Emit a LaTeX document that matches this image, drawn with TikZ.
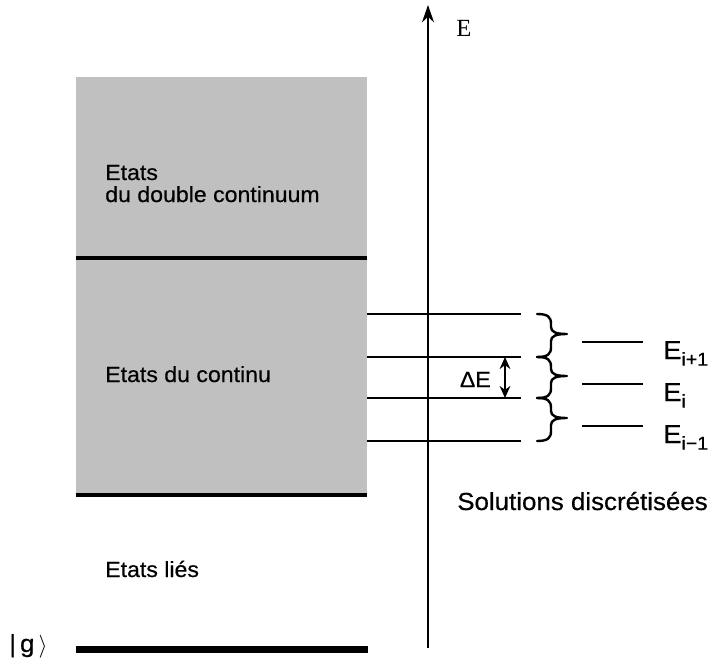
\documentclass[tikz,border=0pt]{standalone}
\usepackage{fontspec}
\setmainfont{Liberation Sans}[FakeStretch=1.05,UprightFeatures={FakeBold=0.5}]
\newfontfamily\serifE{Liberation Serif}
\usetikzlibrary{arrows.meta}
\definecolor{boxgray}{RGB}{192,192,192}
\begin{document}
\begin{tikzpicture}[x=0.75pt,y=-0.75pt,
  lab/.style={anchor=base west,inner sep=0pt,font=\fontsize{16.5}{18}\selectfont},
  elab/.style={anchor=base west,inner sep=0pt,font=\fontsize{19.5}{20}\selectfont},
  thinline/.style={line width=1.6pt},
  braceline/.style={line width=1.8pt,line cap=round,line join=round}]
\useasboundingbox (0,0) rectangle (718,660);
% gray band
\fill[boxgray] (76,77) rectangle (367,496);
\coordinate (sepL) at (76,258); \coordinate (sepR) at (367,258);
\draw[line width=2.4pt] (sepL) -- (sepR);
\coordinate (botL) at (76,495); \coordinate (botR) at (367,495);
\draw[line width=3.2pt] (botL) -- (botR);
\coordinate (gL) at (76,649.5); \coordinate (gR) at (368,649.5);
\draw[line width=5.5pt] (gL) -- (gR);
% energy axis
\coordinate (axB) at (428,648); \coordinate (axT) at (428,5);
\draw[thinline,-{Stealth[length=13pt,width=9pt]}] (axB) -- (axT);
\node[anchor=base west,inner sep=0pt,font=\serifE\fontsize{18.5}{20}\selectfont] (Elab) at (456,37) {E};
% discretisation lines
\foreach \y [count=\k] in {314,357,398,441}{
  \coordinate (hl\k) at (367,\y); \coordinate (hr\k) at (521,\y);
  \draw[thinline] (hl\k) -- (hr\k);
}
% braces
\foreach \a/\b in {314/357,357/398,398/441}{
  \pgfmathsetmacro{\m}{(\a+\b)/2-1.5}
  \draw[braceline] (537,\a) .. controls (548,\a) and (551,\a+3) .. (551,\a+10)
     -- (551,\m-7) .. controls (551,\m-2) and (556,\m) .. (567,\m)
     .. controls (556,\m) and (551,\m+2) .. (551,\m+7)
     -- (551,\b-10) .. controls (551,\b-3) and (548,\b) .. (537,\b);
}
% levels
\foreach \y [count=\k] in {342,384,426}{
  \coordinate (ll\k) at (582,\y); \coordinate (lr\k) at (643,\y);
  \draw[thinline] (ll\k) -- (lr\k);
}
\node[elab] (E1) at (663,359) {E\raisebox{-5pt}{\fontsize{14}{14}\selectfont i+1}};
\node[elab] (E2) at (663,401) {E\raisebox{-5pt}{\fontsize{14}{14}\selectfont i}};
\node[elab] (E3) at (663,443) {E\raisebox{-5pt}{\fontsize{14}{14}\selectfont i−1}};
% Delta E
\coordinate (dT) at (505,357); \coordinate (dB) at (505,398);
\draw[line width=1.3pt,{Stealth[length=9pt,width=8pt]}-{Stealth[length=9pt,width=8pt]}] (dT) -- (dB);
\node[anchor=base east,inner sep=0pt,font=\fontsize{16.5}{18}\selectfont] (dE) at (491,387) {ΔE};
% labels
\node[lab] (t1a) at (105,180) {Etats};
\node[lab] (t1b) at (105,202) {du double continuum};
\node[lab] (t2) at (105,382) {Etats du continu};
\node[lab] (t3) at (105,577) {Etats liés};
\node[anchor=base west,inner sep=0pt,font=\fontsize{18.5}{20}\selectfont] (sol) at (457,510) {Solutions discrétisées};
\node[anchor=base west,inner sep=0pt,font=\fontsize{18.5}{20}\selectfont] (g) at (9,652) {|\,g\,$\rangle$};
\end{tikzpicture}
\end{document}
